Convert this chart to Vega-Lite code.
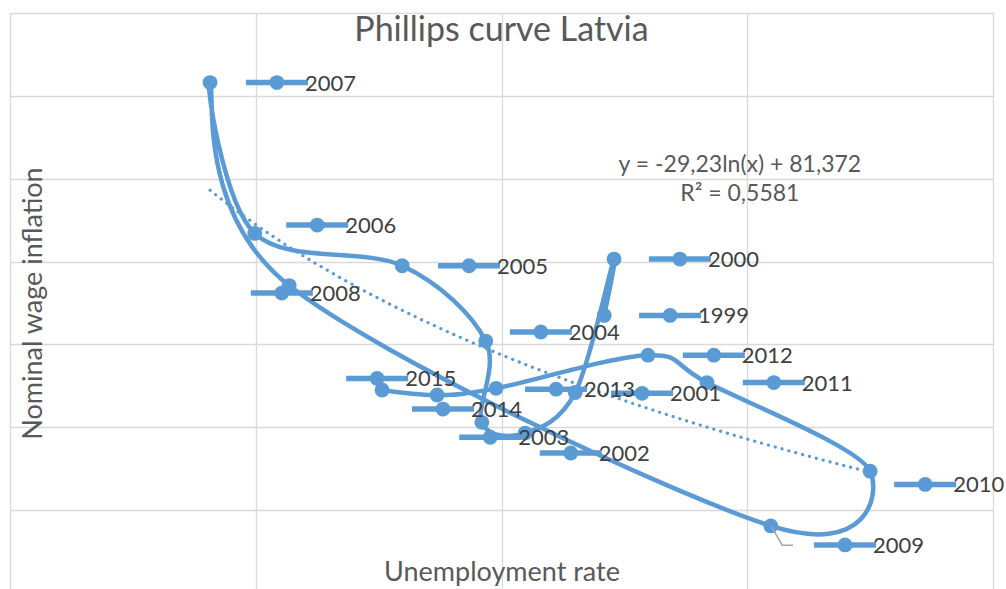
{
  "$schema": "https://vega.github.io/schema/vega-lite/v6.json",
  "width": 983,
  "height": 580,
  "autosize": {"type": "none"},
  "padding": {"left": 10, "top": 13, "right": 13, "bottom": 0},
  "background": "white",
  "config": {"view": {"stroke": null}, "font": "Lato"},
  "title": {
    "text": "Phillips curve Latvia",
    "font": "Lato",
    "fontSize": 34,
    "fontWeight": "normal",
    "color": "#595959",
    "anchor": "middle",
    "frame": "group",
    "baseline": "alphabetic",
    "offset": -27,
    "dy": 35
  },
  "datasets": {
    "points": [
      {"year": 1999, "ur": 14.09, "wi": 13.5},
      {"year": 2000, "ur": 14.29, "wi": 20.3},
      {"year": 2001, "ur": 13.5, "wi": 4.2},
      {"year": 2002, "ur": 12.48, "wi": -0.7},
      {"year": 2003, "ur": 11.6, "wi": 0.6},
      {"year": 2004, "ur": 11.68, "wi": 10.4},
      {"year": 2005, "ur": 9.98, "wi": 19.5},
      {"year": 2006, "ur": 6.98, "wi": 23.4},
      {"year": 2007, "ur": 6.07, "wi": 41.6},
      {"year": 2008, "ur": 7.68, "wi": 17.1},
      {"year": 2009, "ur": 17.48, "wi": -11.9},
      {"year": 2010, "ur": 19.5, "wi": -5.3},
      {"year": 2011, "ur": 16.18, "wi": 5.4},
      {"year": 2012, "ur": 14.98, "wi": 8.7},
      {"year": 2013, "ur": 11.89, "wi": 4.7},
      {"year": 2014, "ur": 10.69, "wi": 3.9},
      {"year": 2015, "ur": 9.57, "wi": 4.5}
    ],
    "labels": [
      {"year": "1999", "lx": 15.43, "ly": 13.5},
      {"year": "2000", "lx": 15.63, "ly": 20.3},
      {"year": "2001", "lx": 14.86, "ly": 4.1},
      {"year": "2002", "lx": 13.41, "ly": -3.1},
      {"year": "2003", "lx": 11.77, "ly": -1.2},
      {"year": "2004", "lx": 12.8, "ly": 11.5},
      {"year": "2005", "lx": 11.34, "ly": 19.5},
      {"year": "2006", "lx": 8.25, "ly": 24.4},
      {"year": "2007", "lx": 7.43, "ly": 41.6},
      {"year": "2008", "lx": 7.53, "ly": 16.2},
      {"year": "2009", "lx": 18.99, "ly": -14.2},
      {"year": "2010", "lx": 20.62, "ly": -6.9},
      {"year": "2011", "lx": 17.54, "ly": 5.4},
      {"year": "2012", "lx": 16.32, "ly": 8.7},
      {"year": "2013", "lx": 13.11, "ly": 4.6},
      {"year": "2014", "lx": 10.81, "ly": 2.2},
      {"year": "2015", "lx": 9.47, "ly": 5.9}
    ],
    "notes": [
      {"text": "y = -29,23ln(x) + 81,372", "nx": 16.85, "ny": 31.7},
      {"text": "R² = 0,5581", "nx": 16.85, "ny": 28.1}
    ],
    "leader": [
      {"i": 1, "px": 17.5, "py": -12.06},
      {"i": 2, "px": 17.71, "py": -14.23},
      {"i": 3, "px": 17.93, "py": -14.23}
    ]
  },
  "layer": [
    {
      "data": {"name": "points"},
      "transform": [{"regression": "wi", "on": "ur", "method": "log"}],
      "mark": {"type": "line", "color": "#5b9bd5", "strokeWidth": 3.2, "strokeDash": [0.1, 7], "strokeCap": "round"},
      "encoding": {
        "x": {
          "field": "ur", "type": "quantitative",
          "scale": {"domain": [2, 22], "nice": false, "zero": false},
          "axis": {
            "values": [2, 7, 12, 17, 22],
            "labels": false, "ticks": false, "domain": false,
            "grid": true, "gridColor": "#d9d9d9", "gridWidth": 1.3,
            "title": "Unemployment rate",
            "titleFont": "Lato", "titleFontSize": 27, "titleFontWeight": "normal",
            "titleColor": "#595959", "titleY": -21, "titleBaseline": "middle"
          }
        },
        "y": {
          "field": "wi", "type": "quantitative",
          "scale": {"domain": [-20, 50], "nice": false, "zero": false},
          "axis": {
            "values": [-20, -10, 0, 10, 20, 30, 40, 50],
            "labels": false, "ticks": false, "domain": false,
            "grid": true, "gridColor": "#d9d9d9", "gridWidth": 1.3,
            "title": "Nominal wage inflation",
            "titleFont": "Lato", "titleFontSize": 27, "titleFontWeight": "normal",
            "titleColor": "#595959", "titleX": 23, "titleY": 290,
            "titleAngle": -90, "titleBaseline": "middle", "titleAlign": "center"
          }
        }
      }
    },
    {
      "data": {"name": "points"},
      "mark": {"type": "line", "color": "#5b9bd5", "strokeWidth": 4.5, "interpolate": "cardinal", "tension": 0},
      "encoding": {
        "x": {"field": "ur", "type": "quantitative"},
        "y": {"field": "wi", "type": "quantitative"},
        "order": {"field": "year", "type": "quantitative"}
      }
    },
    {
      "data": {"name": "points"},
      "mark": {"type": "circle", "color": "#5b9bd5", "size": 220, "opacity": 1},
      "encoding": {
        "x": {"field": "ur", "type": "quantitative"},
        "y": {"field": "wi", "type": "quantitative"}
      }
    },
    {
      "data": {"name": "leader"},
      "mark": {"type": "line", "color": "#a6a6a6", "strokeWidth": 1.5},
      "encoding": {
        "x": {"field": "px", "type": "quantitative"},
        "y": {"field": "py", "type": "quantitative"},
        "order": {"field": "i", "type": "quantitative"}
      }
    },
    {
      "data": {"name": "labels"},
      "mark": {"type": "tick", "orient": "horizontal", "color": "#5b9bd5", "size": 62, "thickness": 5.5, "opacity": 1},
      "encoding": {
        "x": {"field": "lx", "type": "quantitative"},
        "y": {"field": "ly", "type": "quantitative"}
      }
    },
    {
      "data": {"name": "labels"},
      "mark": {"type": "circle", "color": "#5b9bd5", "size": 220, "opacity": 1},
      "encoding": {
        "x": {"field": "lx", "type": "quantitative"},
        "y": {"field": "ly", "type": "quantitative"}
      }
    },
    {
      "data": {"name": "labels"},
      "mark": {"type": "text", "align": "left", "baseline": "middle", "dx": 28, "dy": 1, "font": "Lato", "fontSize": 22, "color": "#404040"},
      "encoding": {
        "x": {"field": "lx", "type": "quantitative"},
        "y": {"field": "ly", "type": "quantitative"},
        "text": {"field": "year", "type": "nominal"}
      }
    },
    {
      "data": {"name": "notes"},
      "mark": {"type": "text", "align": "center", "baseline": "middle", "font": "Lato", "fontSize": 23, "color": "#595959"},
      "encoding": {
        "x": {"field": "nx", "type": "quantitative"},
        "y": {"field": "ny", "type": "quantitative"},
        "text": {"field": "text", "type": "nominal"}
      }
    }
  ]
}
